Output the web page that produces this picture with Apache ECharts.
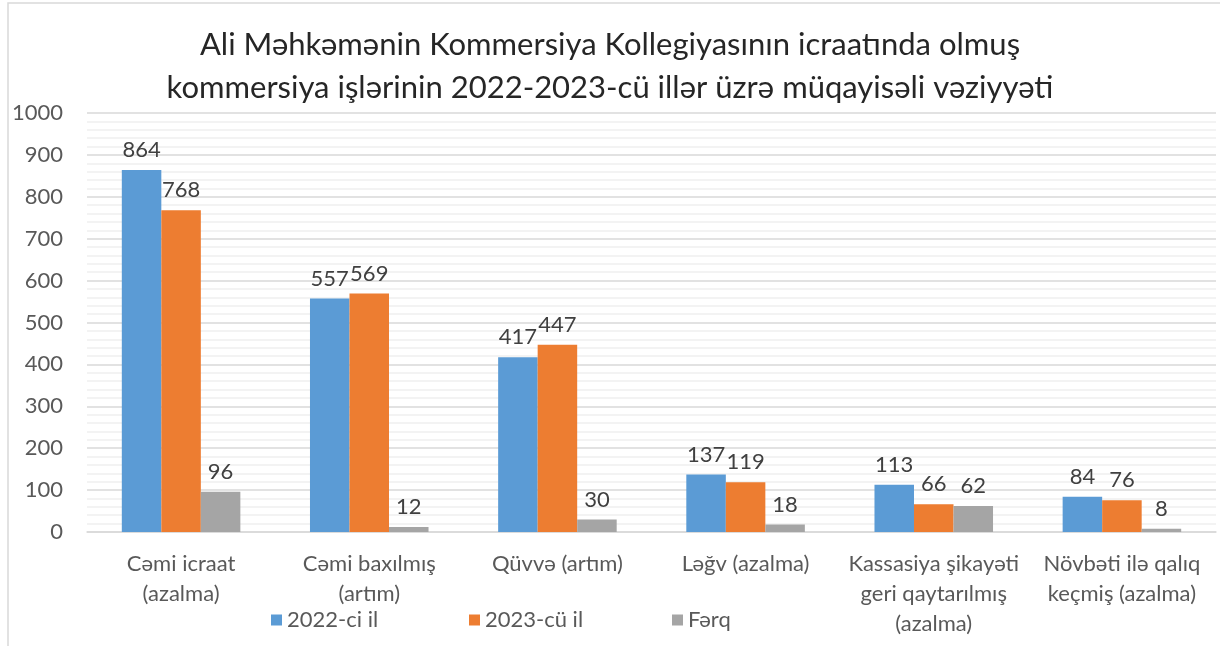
<!DOCTYPE html>
<html>
<head>
<meta charset="utf-8">
<script src="https://cdn.jsdelivr.net/npm/echarts@6/dist/echarts.min.js"></script>
<style>
  html, body { margin: 0; padding: 0; background: #fff; }
  #main { width: 1220px; height: 646px; }
</style>
</head>
<body>
<div id="main"></div>
<script>
// kateqoriyalar və seriyalar
var categories = [
  'Cəmi icraat\n(azalma)',
  'Cəmi baxılmış\n(artım)',
  'Qüvvə (artım)',
  'Ləğv (azalma)',
  'Kassasiya şikayəti\ngeri qaytarılmış\n(azalma)',
  'Növbəti ilə qalıq\nkeçmiş (azalma)'
];
var y2022 = [864, 557, 417, 137, 113, 84];
var y2023 = [768, 569, 447, 119, 66, 76];
var fark = [96, 12, 30, 18, 62, 8];
var seriesNames = ['2022-ci il', '2023-cü il', 'Fərq'];
var colors = ['#5b9bd5', '#ed7d31', '#a5a5a5'];

var FONT = 'Lato';

var chart = echarts.init(document.getElementById('main'));

function barSeries(name, data) {
  return {
    name: name,
    type: 'bar',
    data: data,
    barGap: '0%',
    barCategoryGap: '37%',
    label: {
      show: true,
      position: 'top',
      distance: 9,
      color: '#404040',
      fontSize: 22,
      fontFamily: FONT
    }
  };
}

var legendX = [266, 464, 667];

var option = {
  backgroundColor: '#fff',
  color: colors,
  animation: false,
  title: {
    text: 'Ali Məhkəmənin Kommersiya Kollegiyasının icraatında olmuş\nkommersiya işlərinin 2022-2023-cü illər üzrə müqayisəli vəziyyəti',
    left: 'center',
    top: 18,
    textStyle: {
      fontFamily: FONT,
      fontWeight: 'normal',
      fontSize: 31,
      color: '#262626',
      lineHeight: 43
    }
  },
  legend: seriesNames.map(function (n, i) {
    return {
      data: [n],
      left: legendX[i],
      top: 604,
      itemWidth: 11,
      itemHeight: 11,
      itemGap: 6,
      icon: 'rect',
      textStyle: { fontFamily: FONT, fontSize: 22, color: '#595959' }
    };
  }),
  grid: {
    left: 87,
    right: 4,
    top: 113,
    bottom: 114
  },
  xAxis: {
    type: 'category',
    data: categories,
    axisTick: { show: false },
    axisLine: { lineStyle: { color: '#d9d9d9', width: 1.5 } },
    axisLabel: {
      interval: 0,
      margin: 17,
      color: '#595959',
      fontSize: 22,
      fontFamily: FONT,
      lineHeight: 30
    }
  },
  yAxis: {
    type: 'value',
    min: 0,
    max: 1000,
    interval: 100,
    axisLine: { show: false },
    axisTick: { show: false },
    axisLabel: {
      margin: 24,
      color: '#595959',
      fontSize: 22,
      fontFamily: FONT,
      formatter: function (v) { return String(v); }
    },
    splitLine: { lineStyle: { color: '#d9d9d9', width: 1.5 } },
    minorTick: { show: false, splitNumber: 5 },
    minorSplitLine: { show: true, lineStyle: { color: '#f0f0f0', width: 1.5 } }
  },
  graphic: [{
    type: 'rect',
    shape: { x: 8, y: 3, width: 1400, height: 800 },
    style: { fill: 'none', stroke: '#d9d9d9', lineWidth: 1.5 },
    silent: true
  }],
  series: [
    barSeries(seriesNames[0], y2022),
    barSeries(seriesNames[1], y2023),
    barSeries(seriesNames[2], fark)
  ]
};

chart.setOption(option);
</script>
</body>
</html>
